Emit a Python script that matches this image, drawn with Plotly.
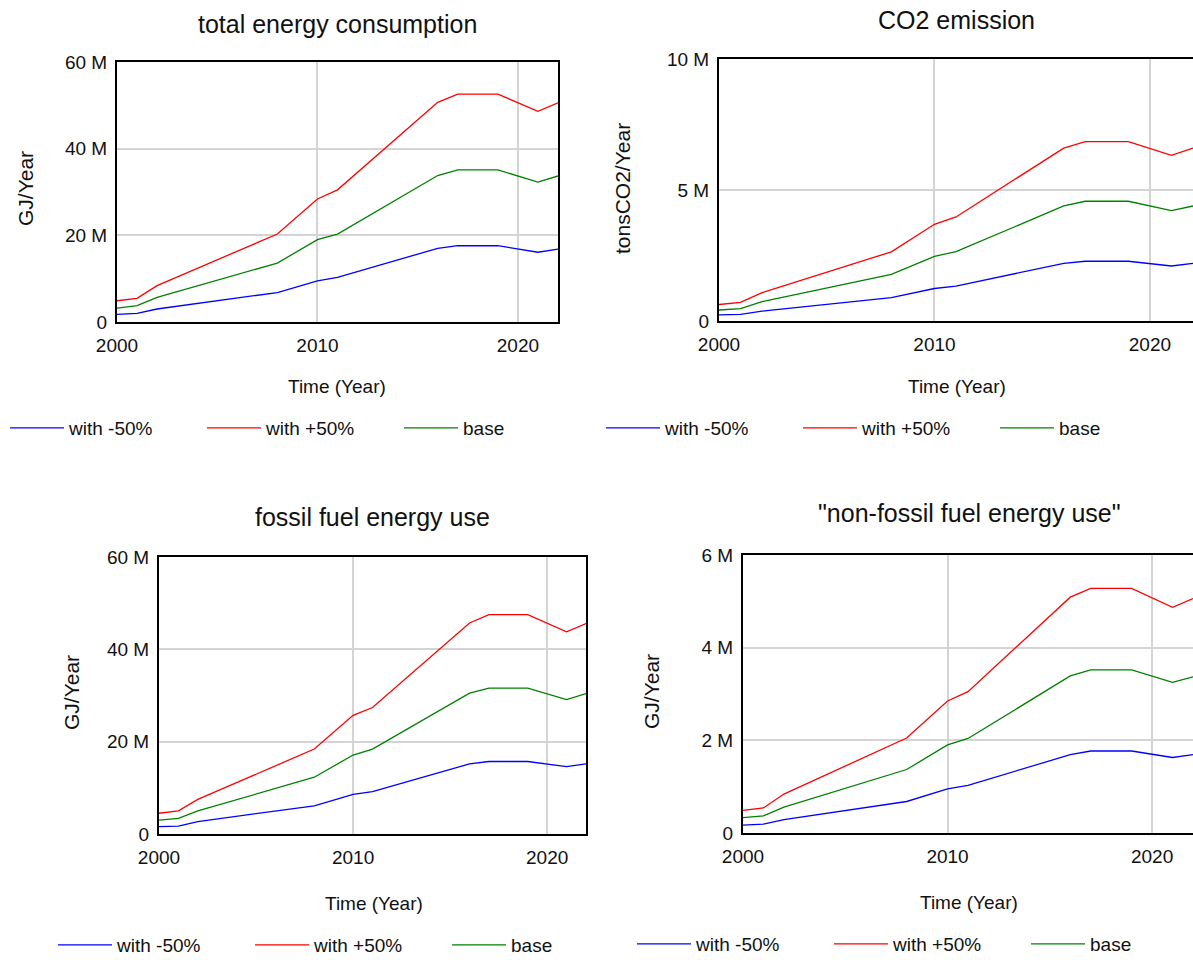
import plotly.graph_objects as go

W, H = 1193, 960

years = [2000, 2001, 2002, 2008, 2010, 2011, 2016, 2017, 2019, 2021, 2022]
series_names = ["with -50%", "with +50%", "base"]
series_colors = ["#0000ff", "#ff0000", "#008000"]

# total energy consumption (million GJ/Year)
total_minus = [1.77, 2.0, 3.0, 6.8, 9.5, 10.3, 17.0, 17.6, 17.6, 16.1, 16.8]
total_plus = [4.9, 5.45, 8.4, 20.3, 28.4, 30.5, 50.7, 52.6, 52.6, 48.6, 50.6]
total_base = [3.2, 3.8, 5.7, 13.6, 19.0, 20.3, 33.8, 35.1, 35.1, 32.3, 33.7]

# CO2 emission (million tonsCO2/Year)
co2_minus = [0.23, 0.25, 0.38, 0.89, 1.24, 1.33, 2.2, 2.28, 2.28, 2.1, 2.2]
co2_plus = [0.63, 0.71, 1.08, 2.64, 3.69, 3.97, 6.6, 6.85, 6.85, 6.32, 6.6]
co2_base = [0.42, 0.47, 0.74, 1.78, 2.47, 2.65, 4.39, 4.57, 4.57, 4.21, 4.39]

# fossil fuel energy use (million GJ/Year)
fossil_minus = [1.6, 1.7, 2.7, 6.1, 8.6, 9.2, 15.2, 15.7, 15.7, 14.6, 15.2]
fossil_plus = [4.5, 5.0, 7.5, 18.4, 25.7, 27.4, 45.7, 47.5, 47.5, 43.8, 45.6]
fossil_base = [3.0, 3.4, 5.0, 12.3, 17.1, 18.4, 30.5, 31.6, 31.6, 29.1, 30.4]

# non-fossil fuel energy use (million GJ/Year)
nonfossil_minus = [0.17, 0.19, 0.29, 0.68, 0.95, 1.03, 1.69, 1.77, 1.77, 1.63, 1.69]
nonfossil_plus = [0.49, 0.54, 0.84, 2.05, 2.85, 3.05, 5.09, 5.28, 5.28, 4.87, 5.06]
nonfossil_base = [0.33, 0.37, 0.56, 1.37, 1.9, 2.04, 3.39, 3.52, 3.52, 3.25, 3.37]

x_tickvals = [2000, 2010, 2020]
x_ticktext = ["2000", "2010", "2020"]

panels = [
    dict(title="total energy consumption", ytitle="GJ/Year",
         data=[total_minus, total_plus, total_base],
         yticks=[0, 20, 40, 60], yticktext=["0", "20 M", "40 M", "60 M"],
         box=(117, 558, 62, 322), full=True,
         title_pos=(337, 24), xt_pos=(337, 386), yt_pos=(25, 189),
         leg=(5, 428)),
    dict(title="CO2 emission", ytitle="tonsCO2/Year",
         data=[co2_minus, co2_plus, co2_base],
         yticks=[0, 5, 10], yticktext=["0", "5 M", "10 M"],
         box=(719, 1193, 59, 321), full=False,
         title_pos=(956, 20), xt_pos=(957, 386), yt_pos=(623, 188),
         leg=(601, 428)),
    dict(title="fossil fuel energy use", ytitle="GJ/Year",
         data=[fossil_minus, fossil_plus, fossil_base],
         yticks=[0, 20, 40, 60], yticktext=["0", "20 M", "40 M", "60 M"],
         box=(159, 586, 557, 834), full=True,
         title_pos=(372, 517), xt_pos=(374, 903), yt_pos=(71, 693),
         leg=(53, 945)),
    dict(title="\"non-fossil fuel energy use\"", ytitle="GJ/Year",
         data=[nonfossil_minus, nonfossil_plus, nonfossil_base],
         yticks=[0, 2, 4, 6], yticktext=["0", "2 M", "4 M", "6 M"],
         box=(743, 1193, 555, 833), full=False,
         title_pos=(969, 513), xt_pos=(969, 902), yt_pos=(651, 692),
         leg=(632, 944)),
]

FONT = "Liberation Sans, Arial, sans-serif"
fig = go.Figure()
layout = dict(width=W, height=H,
              margin=dict(l=0, r=0, t=0, b=0, pad=0, autoexpand=False),
              paper_bgcolor="white", plot_bgcolor="white",
              font=dict(family=FONT, color="#111111", size=19),
              annotations=[])


def px(x):
    return x / W


def py(y):
    return 1 - y / H


for i, p in enumerate(panels):
    n = "" if i == 0 else str(i + 1)
    legname = "legend" + n
    x0, x1, y0, y1 = p["box"]
    for name, color, vals in zip(series_names, series_colors, p["data"]):
        fig.add_trace(go.Scatter(x=years, y=vals, mode="lines", name=name,
                                 line=dict(color=color, width=1.3),
                                 xaxis="x" + n, yaxis="y" + n,
                                 legend=legname, hoverinfo="skip"))
    ymax = p["yticks"][-1]
    layout["xaxis" + n] = dict(domain=[px(x0), min(1.0, px(x1))], anchor="y" + n,
                               range=[2000, 2022], tickvals=x_tickvals, ticktext=x_ticktext,
                               showgrid=True, gridcolor="#d4d4d4", gridwidth=1.5,
                               zeroline=False, showline=True, linecolor="black",
                               linewidth=2, mirror=True, ticks="",
                               ticklabelstandoff=5,
                               tickfont=dict(size=19, family=FONT, color="#111111"))
    layout["yaxis" + n] = dict(domain=[py(y1), py(y0)], anchor="x" + n,
                               range=[0, ymax], tickvals=p["yticks"], ticktext=p["yticktext"],
                               showgrid=True, gridcolor="#d4d4d4", gridwidth=1.5,
                               zeroline=False, showline=True, linecolor="black",
                               linewidth=2, mirror=p["full"], ticks="",
                               ticklabelstandoff=4,
                               tickfont=dict(size=19, family=FONT, color="#111111"))
    layout[legname] = dict(orientation="h", x=px(p["leg"][0]), y=py(p["leg"][1]),
                           xanchor="left", yanchor="middle", itemwidth=54,
                           entrywidth=128, entrywidthmode="pixels",
                           font=dict(size=19, family=FONT, color="#111111"),
                           bgcolor="rgba(0,0,0,0)", itemclick=False)
    tx, ty = p["title_pos"]
    layout["annotations"].append(dict(text=p["title"], x=px(tx), y=py(ty), xref="paper",
                                      yref="paper", showarrow=False, xanchor="center",
                                      yanchor="middle", font=dict(size=25, family=FONT)))
    ax, ay = p["xt_pos"]
    layout["annotations"].append(dict(text="Time (Year)", x=px(ax), y=py(ay), xref="paper",
                                      yref="paper", showarrow=False, xanchor="center",
                                      yanchor="middle", font=dict(size=19, family=FONT)))
    yx, yy = p["yt_pos"]
    layout["annotations"].append(dict(text=p["ytitle"], x=px(yx), y=py(yy), xref="paper",
                                      yref="paper", showarrow=False, xanchor="center",
                                      yanchor="middle", textangle=-90,
                                      font=dict(size=21, family=FONT)))

fig.update_layout(**layout)
fig.write_html("out.html")
